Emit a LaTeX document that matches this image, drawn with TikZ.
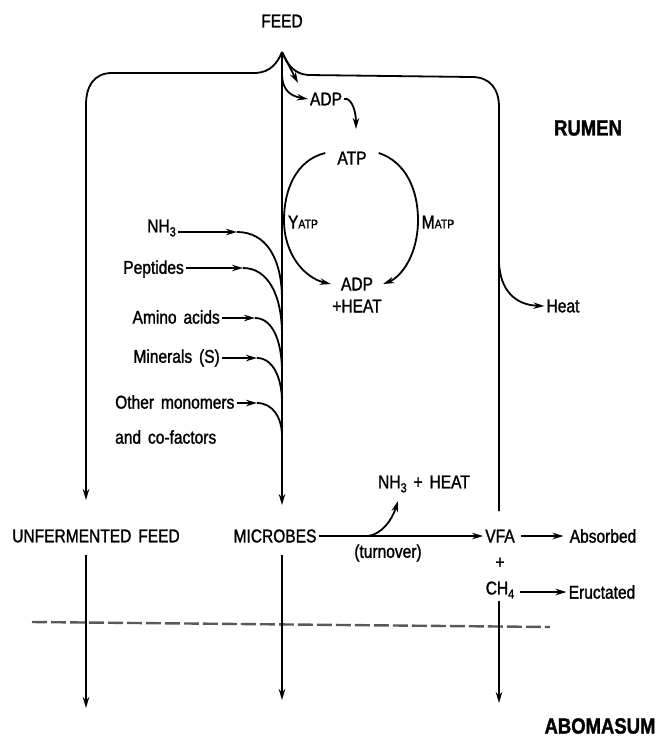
\documentclass[tikz,border=0pt]{standalone}
\usepackage{fontspec}
\setmainfont{Liberation Sans}[FakeStretch=0.84, WordSpace=1.6, FakeBold=1.4]
\usetikzlibrary{arrows.meta, positioning}
\newcommand\lowsub[1]{\raisebox{-4pt}{\fontsize{13}{13}\selectfont #1}}
\newcommand\capsub[1]{{\fontsize{12.5}{13}\selectfont #1}}

\begin{document}
\begin{tikzpicture}[x=1pt, y=-1pt,
        lbl/.style={font=\fontsize{18.5}{20}\selectfont, inner sep=2pt},
        big/.style={font=\fontsize{22}{24}\selectfont\bfseries, inner sep=2pt},
        ln/.style={line width=1.8pt},
        arr/.style={ln, -{Stealth[length=11pt, width=6.5pt]}},
        dashln/.style={line width=2.4pt, black!65, dash pattern=on 15pt off 4pt}
    ]
        \useasboundingbox (0,0) rectangle (656,740);
        \node[lbl] (feed) at (282,21) {FEED};
        \coordinate (peak) at (282,52);
        \node[big] (rumen) at (588,128) {RUMEN};
        \node[lbl] (adpa) at (326,99) {ADP};
        \node[lbl] (atp)  at (352,158) {ATP};
        \node[lbl] (adpb) at (357,284) {ADP};
        \node[lbl] (plh)  at (357,306) {+HEAT};
        \node[lbl] (yatp) at (303,222) {Y\capsub{ATP}};
        \node[lbl] (matp) at (438,222) {M\capsub{ATP}};
        \node[lbl] (heat) at (563,306) {Heat};
        \node[lbl, anchor=east] (nh)    at (178,228) {NH\lowsub{3}};
        \node[lbl, anchor=east] (pep)   at (186,269) {Peptides};
        \node[lbl, anchor=east] (amino) at (222,317) {Amino acids};
        \node[lbl, anchor=east] (mins)  at (222,358) {Minerals (S)};
        \node[lbl, anchor=west] (oth)   at (113,402) {Other monomers};
        \node[lbl, anchor=west] (cof)   at (113,437) {and co-factors};
        \node[lbl] (unf)  at (96,536)  {UNFERMENTED FEED};
        \node[lbl] (mic)  at (275,536) {MICROBES};
        \node[lbl] (vfa)  at (500,536) {VFA};
        \node[lbl] (nhh)  at (424,484) {NH\lowsub{3} + HEAT};
        \node[lbl] (turn) at (388,553) {(turnover)};
        \node[lbl] (abs)  at (603,536) {Absorbed};
        \node[lbl] (plus) at (500,563) {+};
        \node[lbl] (ch)   at (500,590) {CH\lowsub{4}};
        \node[lbl] (eru)  at (602,592) {Eructated};
        \node[big] (abo)  at (600,726) {ABOMASUM};
        \coordinate (ufin)   at (86,500);
        \coordinate (micin)  at (282,505);
        \coordinate (vfain)  at (499,511);
        \coordinate (hb)     at (499,262);
        \coordinate (a2)     at (282,76);
        \coordinate (a1)     at (298,83);
        \coordinate (atpin)  at (356,129);
        \coordinate (t1) at (237,232);
        \coordinate (t2) at (243,268);
        \coordinate (t3) at (255,318);
        \coordinate (t4) at (257,358);
        \coordinate (t5) at (257,403);
        \coordinate (tb) at (368,536);
        \coordinate (tt) at (398,501);
        \coordinate (dl) at (32,622);
        \coordinate (dr) at (550,627);
        \coordinate (ufout)  at (86,708);
        \coordinate (micout) at (282,700);
        \coordinate (vfaout) at (499,703);
        \draw[arr] (peak) .. controls (277,64) and (270,72) .. (256,73) -- (112,73)
            .. controls (94,73) and (86,86) .. (86,105) -- (ufin);
        \draw[ln] (peak) .. controls (287,64) and (294,74) .. (308,75) -- (472,77)
            .. controls (490,77) and (499,89) .. (499,107) -- (vfain);
        \draw[arr] (peak) -- (micin);
        \draw[arr] (hb) .. controls (500,290) and (515,305) .. (heat.west);
        \draw[arr] (peak) .. controls (288,64) .. (a1);
        \draw[arr] (a2) .. controls (283,90) and (290,96) .. (adpa.west);
        \draw[arr] (adpa.east) .. controls (350,97) and (356,108) .. (atpin);
        \draw[arr] ([shift={(-10pt,5pt)}]atp.west) .. controls (296,160) and (284,190) .. (284,220)
            .. controls (284,255) and (305,278) .. ([xshift=-8pt]adpb.west);
        \draw[arr] ([shift={(10pt,5pt)}]atp.east) .. controls (406,162) and (418,190) .. (418,220)
            .. controls (418,255) and (401,277) .. ([xshift=8pt]adpb.east);
        \draw[arr] (nh.east |- t1) -- (t1);
        \draw[arr] (pep.east |- t2) -- (t2);
        \draw[arr] (amino.east |- t3) -- (t3);
        \draw[arr] (mins.east |- t4) -- (t4);
        \draw[arr] (oth.east |- t5) -- (t5);
        \draw[ln] (t1) .. controls (266,232) and (282,258) .. (282,300);
        \draw[ln] (t2) .. controls (268,268) and (282,295) .. (282,335);
        \draw[ln] (t3) .. controls (272,318) and (282,340) .. (282,372);
        \draw[ln] (t4) .. controls (273,358) and (282,378) .. (282,402);
        \draw[ln] (t5) .. controls (273,403) and (282,418) .. (282,436);
        \draw[arr] (mic) -- (vfa);
        \draw[arr] (tb) .. controls (382,534) and (392,520) .. (tt);
        \draw[arr, shorten <=4pt, shorten >=4pt] (vfa) -- (abs);
        \draw[arr, shorten <=4pt] (ch.east |- eru.west) -- (eru.west);
        \draw[dashln] (dl) -- (dr);
        \draw[arr, shorten <=10pt] (unf.south -| ufout) -- (ufout);
        \draw[arr, shorten <=10pt] (mic.south -| micout) -- (micout);
        \draw[arr] (ch.south -| vfaout) -- (vfaout);
    \end{tikzpicture}
\end{document}
